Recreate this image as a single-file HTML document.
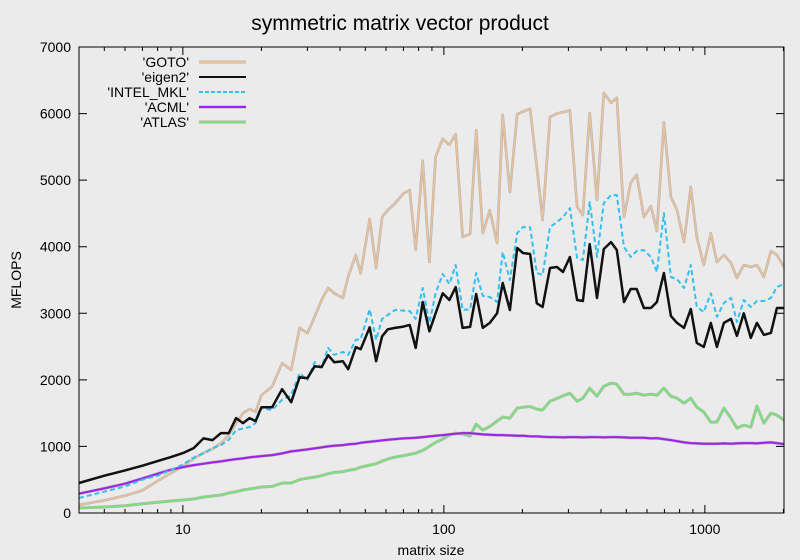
<!DOCTYPE html>
<html><head><meta charset="utf-8"><style>
body{margin:0;background:#ebebeb;}
svg{display:block;font-family:"Liberation Sans",sans-serif;}
</style></head><body>
<svg id="chart" width="800" height="560" xmlns="http://www.w3.org/2000/svg">
<rect x="0" y="0" width="800" height="560" fill="#ebebeb"/>
<text x="400" y="30" text-anchor="middle" font-size="21" fill="#000">symmetric matrix vector product</text>
<text x="0" y="0" transform="translate(21,280) rotate(-90)" text-anchor="middle" font-size="14">MFLOPS</text>
<text x="431" y="555" text-anchor="middle" font-size="14">matrix size</text>
<g id="grid"></g><g id="series"></g><g id="frame"></g><g id="legend"></g>
</svg>
<script>
const sizes=[4,5,6,7,8,9,10,11,12,13,14,15,16,17,18,19,20,22,24,26,
28,30,32,34,36,38,41,43,46,48,52,55,58,61,65,70,74,78,83,88,93,99,105,111,118,126,133,141,150,160,168,179,191,201,214,227,239,255,271,286,304,324,341,362,386,410,437,460,490,520,548,584,621,655,697,741,782,832,883,931,991,1054,1112,1183,1259,1327,1410,1500,1582,1683,1791,1888,2010];
const gotoVals=[120,190,260,340,480,600,700,820,900,960,1050,1170,1350,1500,1560,1520,1770,1900,2250,2150,
2780,2700,2950,3200,3380,3300,3230,3550,3875,3600,4415,3680,4445,4550,4650,4800,4850,3950,5290,3770,5350,5620,5530,5690,4145,4190,5750,4205,4550,4055,5980,4820,5990,6030,6070,5200,4400,5950,6000,6020,6050,4600,4475,6010,4700,6310,6160,6235,4445,4960,5080,4445,4610,4235,5870,4750,4550,4070,4900,4145,3725,4205,3770,3875,3755,3530,3725,3695,3725,3545,3935,3875,3695];
const eigenVals=[450,560,640,710,780,840,900,975,1120,1095,1200,1200,1425,1350,1425,1380,1590,1590,1860,1665,
2040,2025,2205,2190,2370,2265,2280,2160,2490,2460,2790,2280,2655,2760,2780,2800,2825,2480,3170,2730,3000,3300,3200,3395,2780,2795,3290,2780,2855,3000,3455,3050,3980,3905,3890,3150,3095,3680,3695,3620,3845,3200,3185,4040,3230,3965,4070,3950,3170,3365,3365,3080,3080,3170,3605,2960,2855,2780,3065,2555,2495,2855,2495,2855,2915,2660,3000,2630,2855,2675,2705,3080,3080];
const mklVals=[225,320,400,500,560,645,730,830,900,975,1020,1100,1245,1270,1290,1350,1575,1545,1700,1770,
2100,2000,2265,2190,2480,2375,2420,2375,2600,2610,3060,2600,2915,2975,3050,3040,3035,2915,3380,2855,3300,3590,3440,3725,3050,3060,3605,3260,3245,3170,3920,3500,4205,4295,4295,3605,3575,4295,4370,4445,4580,3830,3800,4670,3845,4655,4775,4775,3995,3845,3935,3950,3845,3620,4505,3545,3515,3380,3725,3095,3020,3300,2945,3155,3230,2870,3200,3095,3185,3185,3230,3395,3440];
const acmlVals=[290,370,440,520,590,650,690,720,740,760,775,795,810,820,835,845,855,870,895,925,
940,955,970,985,1000,1010,1020,1030,1040,1055,1070,1080,1090,1100,1110,1120,1125,1130,1140,1150,1160,1170,1180,1190,1200,1200,1190,1180,1175,1170,1170,1165,1160,1160,1150,1150,1145,1140,1140,1135,1140,1140,1135,1140,1140,1135,1140,1140,1135,1130,1130,1130,1120,1125,1110,1095,1080,1060,1050,1045,1040,1040,1040,1045,1040,1045,1050,1050,1045,1055,1060,1050,1035];
const atlasVals=[75,90,110,140,160,180,195,210,240,255,270,300,320,345,360,375,390,400,450,450,
500,525,540,560,590,610,620,640,660,690,720,740,780,810,840,860,880,900,940,1000,1060,1110,1170,1200,1185,1155,1335,1245,1300,1380,1440,1425,1575,1590,1600,1560,1545,1680,1720,1760,1800,1680,1725,1875,1755,1905,1950,1935,1785,1785,1800,1770,1785,1770,1875,1755,1725,1650,1725,1590,1515,1365,1365,1575,1425,1275,1320,1290,1605,1350,1500,1470,1395];
const yTicks=[0,1000,2000,3000,4000,5000,6000,7000];
const xMajor=[10,100,1000];
const NS="http://www.w3.org/2000/svg";
const L=79,R=784,T=47,B=513;
const xMin=4,xMax=2010,yMax=7000;
function xs(v){return L+(Math.log10(v)-Math.log10(xMin))/(Math.log10(xMax)-Math.log10(xMin))*(R-L);}
function ys(v){return B-v/yMax*(B-T);}
function mk(tag,attrs,parent){const e=document.createElementNS(NS,tag);for(const k in attrs)e.setAttribute(k,attrs[k]);parent.appendChild(e);return e;}
const frame=document.getElementById('frame');
const box=mk('rect',{x:L,y:T,width:R-L,height:B-T,fill:'none',stroke:'#000','stroke-width':1},frame);


yTicks.forEach(t=>{
  const y=ys(t);
  const tk=mk('path',{d:`M${L},${y}h8M${R},${y}h-8`,stroke:'#000','stroke-width':1},frame);
  
  
  const lb=mk('text',{x:L-8,y:y+5,'text-anchor':'end','font-size':14},frame);
  lb.textContent=t;
  
  
});
for(let d=1;d<=1000;d*=10){for(let m=1;m<10;m++){const v=d*m;if(v<xMin||v>xMax)continue;
  const x=xs(v);const len=(m===1)?8:4;
  const tk=mk('path',{d:`M${x},${B}v${-len}M${x},${T}v${len}`,stroke:'#000','stroke-width':1},frame);
  
  
}}
xMajor.forEach(v=>{
  const lb=mk('text',{x:xs(v),y:B+21,'text-anchor':'middle','font-size':14},frame);
  lb.textContent=v;
  
  
});
const S=document.getElementById('series');
function pts(vals){return vals.map((v,i)=>xs(sizes[i]).toFixed(1)+','+ys(v).toFixed(1)).join(' ');}
const specs=[
 {name:'GOTO',vals:gotoVals,color:'#e9c29b',under:'#b0b0b0',w:1.6,dash:null},
 {name:'ATLAS',vals:atlasVals,color:'#7de07d',under:'#b0b0b0',w:2,dash:null},
 {name:'ACML',vals:acmlVals,color:'#a020f0',under:'#b0b0b0',w:2,dash:null},
 {name:'INTEL_MKL',vals:mklVals,color:'#33c0f0',under:null,w:2,dash:'5,3'},
 {name:'eigen2',vals:eigenVals,color:'#111',under:null,w:2.5,dash:null}
];
specs.forEach(s=>{
  const g=mk('g',{},S);
  
  
  if(s.under){mk('polyline',{points:pts(s.vals),fill:'none',stroke:s.under,'stroke-width':s.w+1,'stroke-linejoin':'round'},g);}
  const p=mk('polyline',{points:pts(s.vals),fill:'none',stroke:s.color,'stroke-width':s.w,'stroke-linejoin':'round'},g);
  if(s.dash)p.setAttribute('stroke-dasharray',s.dash);
});
const leg=document.getElementById('legend');
const legItems=[
 {label:"'GOTO'",color:'#e9c29b',under:'#b0b0b0',dash:null},
 {label:"'eigen2'",color:'#111',under:null,dash:null},
 {label:"'INTEL_MKL'",color:'#33c0f0',under:null,dash:'4,2'},
 {label:"'ACML'",color:'#a020f0',under:'#b0b0b0',dash:null},
 {label:"'ATLAS'",color:'#7de07d',under:'#b0b0b0',dash:null}
];
legItems.forEach((it,i)=>{
  const y=62+i*15;
  const g=mk('g',{},leg);
  
  
  const t=mk('text',{x:189,y:y+5,'text-anchor':'end','font-size':14},g);
  t.textContent=it.label;
  if(it.under)mk('line',{x1:199,y1:y,x2:246,y2:y,stroke:it.under,'stroke-width':3},g);
  const ln=mk('line',{x1:199,y1:y,x2:246,y2:y,stroke:it.color,'stroke-width':2},g);
  if(it.dash)ln.setAttribute('stroke-dasharray',it.dash);
});
</script>
</body></html>
